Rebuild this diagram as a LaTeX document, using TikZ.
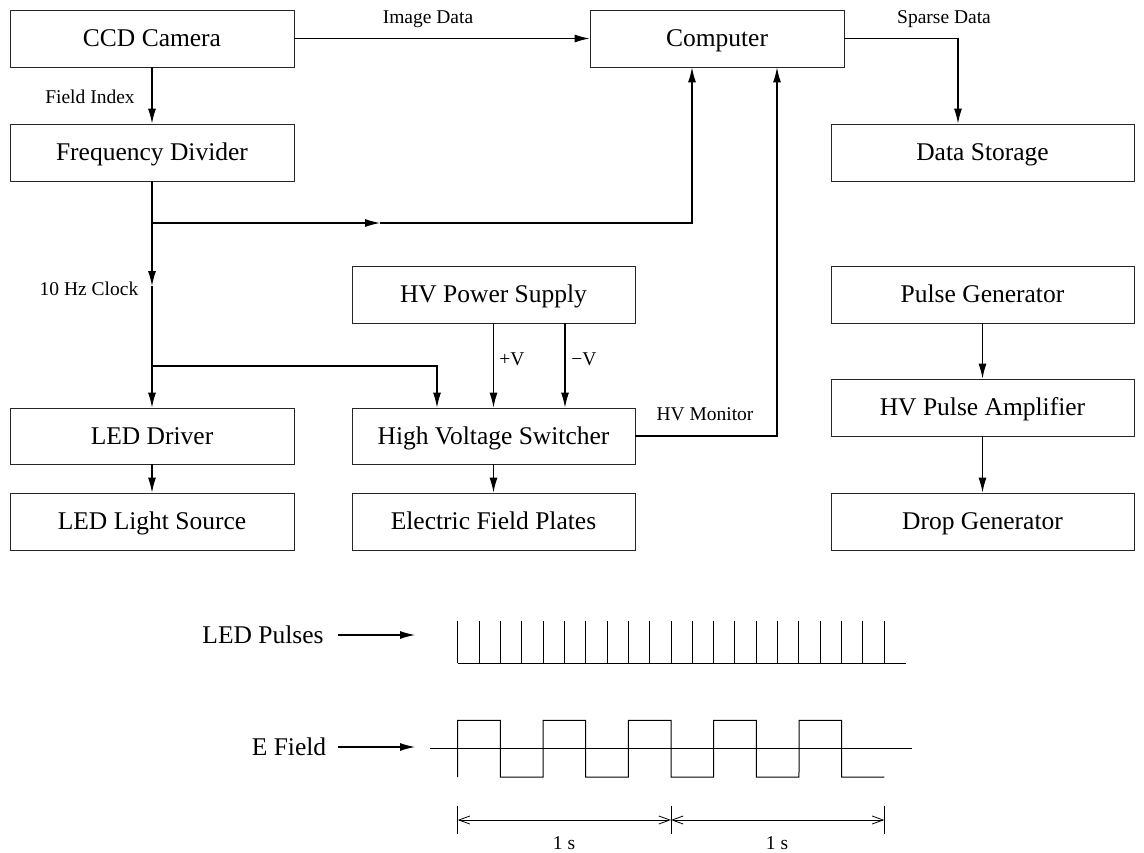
\documentclass[tikz,border=0pt]{standalone}
\usepackage{fontspec}
\setmainfont{Liberation Serif}
\usetikzlibrary{arrows.meta}
\tikzset{
  blk/.style={draw=black!85, line width=0.9pt, inner sep=0pt, minimum width=284pt, minimum height=57pt, text height=17.5pt, text depth=1pt, font=\fontsize{25.5}{30}\selectfont},
  lbl/.style={inner sep=0pt, font=\fontsize{19.5}{23}\selectfont},
  big/.style={inner sep=0pt, font=\fontsize{25.5}{30}\selectfont},
  conn/.style={line width=1.1pt, -{Latex[length=15pt,width=8pt]}},
  wave/.style={line width=1pt},
  dim/.style={line width=0.8pt, {Straight Barb[length=11pt,width=8pt]}-{Straight Barb[length=11pt,width=8pt]}},
}
\begin{document}
\begin{tikzpicture}[x=1pt,y=-1pt]
\useasboundingbox (0,0) rectangle (1144,852);
% boxes
\node[blk] (ccd) at (152,38.5) {CCD Camera};
\node[blk] (fd) at (152,152.5) {Frequency Divider};
\node[blk, minimum width=254pt] (comp) at (717,38.5) {Computer};
\node[blk, minimum width=303pt] (ds) at (982.5,152.5) {Data Storage};
\node[blk, minimum width=283pt] (hvps) at (493.5,294.5) {HV Power Supply};
\node[blk, minimum width=283pt, minimum height=56pt] (hvs) at (493.5,436) {High Voltage Switcher};
\node[blk, minimum width=283pt] (efp) at (493.5,521.5) {Electric Field Plates};
\node[blk, minimum height=56pt] (ledd) at (152,436) {LED Driver};
\node[blk] (ledl) at (152,521.5) {LED Light Source};
\node[blk, minimum width=303pt] (pg) at (982.5,294.5) {Pulse Generator};
\node[blk, minimum width=303pt] (hvpa) at (982.5,407.5) {HV Pulse Amplifier};
\node[blk, minimum width=303pt] (drop) at (982.5,521.5) {Drop Generator};
% labels
\node[lbl] (limg) at (428,19) {Image Data};
\node[lbl] (lfield) at (90,97) {Field Index};
\node[lbl] (lsparse) at (944,19) {Sparse Data};
\node[lbl] (lclock) at (89,289) {10 Hz Clock};
\node[lbl] (lpv) at (512,359) {+V};
\node[lbl] (lmv) at (584,359) {−V};
\node[lbl] (lmon) at (705,414) {HV Monitor};
% coordinates
\coordinate (j1) at (152,223);
\coordinate (m1) at (380,223);
\coordinate (c1) at (692,223);
\coordinate (m2) at (152,286);
\coordinate (j2) at (152,366);
\coordinate (c2) at (437,366);
\coordinate (c3) at (777,436);
\coordinate (c4) at (958,38.5);
% connectors
\draw[conn] (ccd.east) -- (comp.west);
\draw[conn] (ccd.south) -- (fd.north);
\draw[conn] (comp.east) -- (c4) -- (ds.north -| c4);
\draw[conn] (fd.south) -- (m2);
\draw[conn] (m2) -- (ledd.north);
\draw[conn] (j1) -- (m1);
\draw[conn] (m1) -- (c1) -- (comp.south -| c1);
\draw[conn] (j2) -- (c2) -- (hvs.north -| c2);
\draw[conn] (hvps.south) -- (hvs.north);
\draw[conn] (hvps.south -| 565,0) -- (hvs.north -| 565,0);
\draw[conn] (hvs.east) -- (c3) -- (comp.south -| c3);
\draw[conn] (hvs.south) -- (efp.north);
\draw[conn] (ledd.south) -- (ledl.north);
\draw[conn] (pg.south) -- (hvpa.north);
\draw[conn] (hvpa.south) -- (drop.north);
% waveforms
\node[big] (tled) at (263,635) {LED Pulses};
\node[big] (tef) at (289,747) {E Field};
\coordinate (aled) at (415,635);
\coordinate (aef) at (415,747);
\draw[conn] (tled.east) ++(14,0) -- (aled);
\draw[conn] (tef.east) ++(12,0) -- (aef);
% LED pulses
\draw[wave] (457.7,663.3) -- (906,663.3);
\foreach \i in {0,...,20} {
  \draw[wave] ({457.7+21.33*\i},663.3) -- ({457.7+21.33*\i},620.5);
}
% E field
\draw[wave] (430,748.7) -- (912,748.7);
\draw[wave] (457.7,777) \foreach \k in {0,...,4} {
  -- ({457.7+85.33*\k},720.3) -- ({500.4+85.33*\k},720.3) -- ({500.4+85.33*\k},777) -- ({543+85.33*\k},777)
} -- (884.3,777);
% timing
\foreach \x in {457.7,671,884.3} { \draw[line width=0.8pt] (\x,805.5) -- (\x,833.5); }
\draw[dim] (457.7,820) -- (671,820);
\draw[dim] (671,820) -- (884.3,820);
\node[lbl] (s1) at (564,843) {1 s};
\node[lbl] (s2) at (777,843) {1 s};
\end{tikzpicture}
\end{document}
